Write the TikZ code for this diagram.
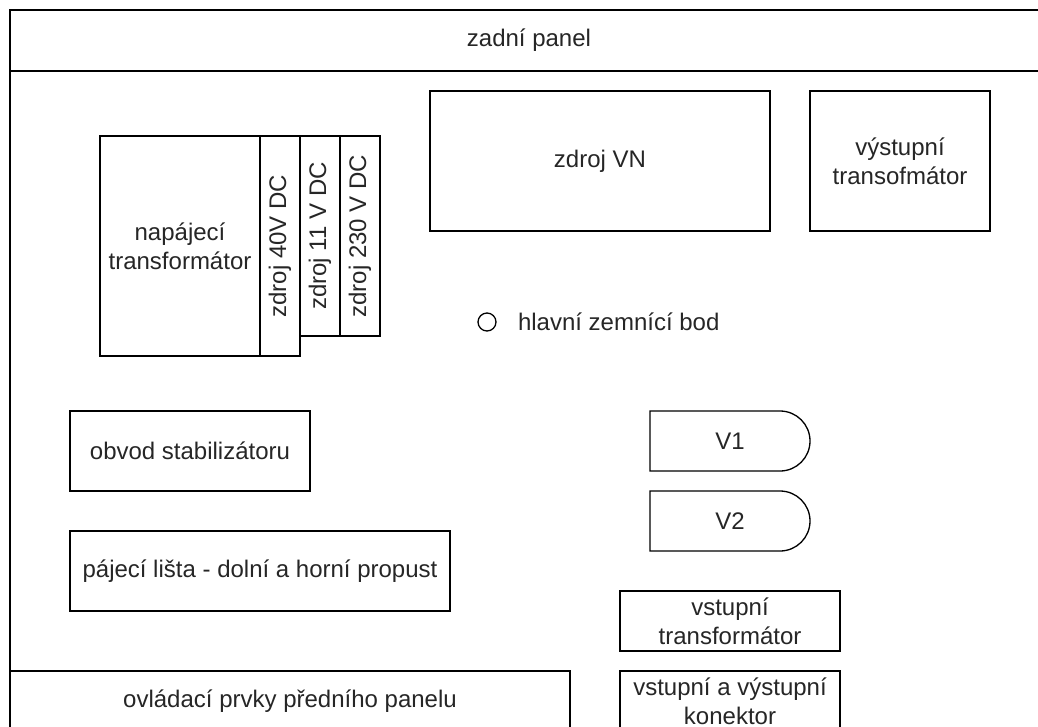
\documentclass[tikz,border=0pt]{standalone}
\usepackage{fontspec}
\setmainfont{Liberation Sans}
\begin{document}
\begin{tikzpicture}[x=1pt,y=-1pt,line width=1.3pt,
  txt/.style={font=\fontsize{24}{28.8}\selectfont, text=black!85},
  box/.style={draw, inner sep=0pt, outer sep=0pt, align=center, txt},
  lbl/.style={inner sep=0pt, outer sep=0pt, align=center, txt}]
\useasboundingbox (0,0) rectangle (1038,726);
\clip (0,0) rectangle (1038,726);
\fill[white] (0,0) rectangle (1038,726);
% outer frame and rear panel
\node[box, minimum width=1038pt, minimum height=760pt, anchor=north west] (frame) at (10,10) {};
\node[box, minimum width=1038pt, minimum height=61pt, anchor=north west] (rear) at (10,10) {zadní panel};
% power transformer and supplies
\node[box, minimum width=160pt, minimum height=220pt] (ntr) at (180,246) {napájecí\\transformátor};
\node[box, rotate=90, minimum width=220pt, minimum height=40pt] (z40) at (280,246) {zdroj 40V DC};
\node[box, rotate=90, minimum width=200pt, minimum height=40pt] (z11) at (320,236) {zdroj 11 V DC};
\node[box, rotate=90, minimum width=200pt, minimum height=40pt] (z230) at (360,236) {zdroj 230 V DC};
% HV supply and output transformer
\node[box, minimum width=340pt, minimum height=140pt] (vn) at (600,161) {zdroj VN};
\node[box, minimum width=180pt, minimum height=140pt] (vyt) at (900,161) {výstupní\\transofmátor};
% ground point
\node[circle, draw, inner sep=0pt, minimum size=18pt] (gnd) at (487,322) {};
\node[lbl, anchor=west] (gndl) at (518,322) {hlavní zemnící bod};
% left boards
\node[box, minimum width=240pt, minimum height=80pt] (stab) at (190,451) {obvod stabilizátoru};
\node[box, minimum width=380pt, minimum height=80pt] (lista) at (260,571) {pájecí lišta - dolní a horní propust};
% tubes
\node[lbl, minimum width=160pt, minimum height=60pt] (v1) at (730,441) {V1};
\draw (v1.north west) -- ([xshift=-30pt]v1.north east) arc[start angle=90, end angle=-90, radius=30pt] -- (v1.south west) -- cycle;
\node[lbl, minimum width=160pt, minimum height=60pt] (v2) at (730,521) {V2};
\draw (v2.north west) -- ([xshift=-30pt]v2.north east) arc[start angle=90, end angle=-90, radius=30pt] -- (v2.south west) -- cycle;
% input side
\node[box, minimum width=220pt, minimum height=60pt] (vst) at (730,621) {vstupní\\transformátor};
\node[box, minimum width=220pt, minimum height=60pt] (kon) at (730,701) {vstupní a výstupní\\konektor};
\node[box, minimum width=560pt, minimum height=60pt] (ovl) at (290,701) {ovládací prvky předního panelu};
\end{tikzpicture}
\end{document}
